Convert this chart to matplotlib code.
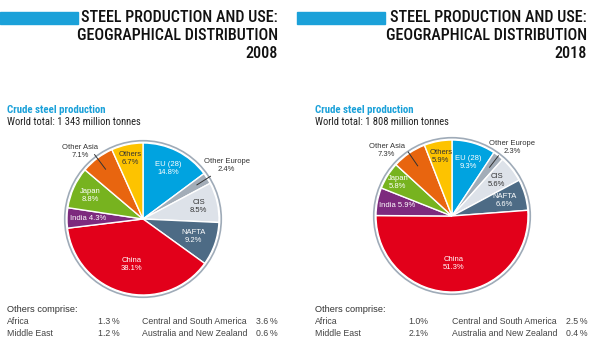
import numpy as np
import matplotlib
matplotlib.use('Agg')
import matplotlib.pyplot as plt
from matplotlib.patches import Circle

# data
regions = ['EU (28)', 'Other Europe', 'CIS', 'NAFTA', 'China', 'India', 'Japan', 'Other Asia', 'Others']
share_2008 = [14.8, 2.4, 8.5, 9.2, 38.1, 4.3, 8.8, 7.1, 6.7]
share_2018 = [9.3, 2.3, 5.6, 6.6, 51.3, 5.9, 5.8, 7.3, 5.9]
totals = ['1 343', '1 808']
years = ['2008', '2018']
others_names = ['Africa', 'Middle East', 'Central and South America', 'Australia and New Zealand']
others_2008 = ['1.3\u2009%', '1.2\u2009%', '3.6\u2009%', '0.6\u2009%']
others_2018 = ['1.0%', '2.1%', '2.5\u2009%', '0.4\u2009%']

colors = ['#00a3e0', '#a3adb8', '#dde2e9', '#4d6b85', '#e2001a', '#7d2a7e', '#77b31f', '#e8650f', '#fdc300']
txtcol = ['white', '#333333', '#333333', 'white', 'white', 'white', 'white', '#333333', '#333333']
BLUE = '#1ba1d9'
COND = ['Roboto Condensed', 'DejaVu Sans']
BODY = ['Liberation Sans', 'DejaVu Sans']

W, H = 600, 347
fig = plt.figure(figsize=(W / 100, H / 100), dpi=100)
fig.patch.set_facecolor('white')

def px(x, y):
    return x / W, 1 - y / H

# label radius factor per wedge; None -> outside label with leader
lab_r = {
    '2008': [0.74, None, 0.75, 0.70, 0.62, 0.72, 0.76, None, 0.82],
    '2018': [0.74, None, 0.75, 0.72, 0.62, 0.73, 0.84, None, 0.80],
}
# outside label: text x, text y, leader start r, leader end r
outside = {
    '2008': {1: (1.10, 0.70, 0.84, 1.05), 7: (-0.83, 0.89, 0.82, 1.06)},
    '2018': {1: (0.79, 0.90, 0.81, 1.00), 7: (-0.86, 0.86, 0.80, 1.02)},
}

R = 76.0
lim = 1.3
LFS = 5.5

def draw_panel(x0, cx, cy, bar, title_right, year, vals, total, oth, col2_x, v1_right, v2_right):
    # top blue bar
    fig.patches.append(plt.Rectangle(px(bar[0], 24), (bar[1] - bar[0]) / W, 12 / H,
                                     transform=fig.transFigure, color=BLUE, zorder=1))
    for i, line in enumerate(['STEEL PRODUCTION AND USE:', 'GEOGRAPHICAL DISTRIBUTION', year]):
        fig.text(*px(title_right, 18 + i * 17.5), line, ha='right', va='center',
                 fontsize=11.6, family=COND, weight=500, color='#111111')
    fig.text(*px(x0, 110), 'Crude steel production', ha='left', va='center',
             fontsize=7.8, family=COND, weight='bold', color=BLUE)
    fig.text(*px(x0, 122), f'World total: {total} million tonnes', ha='left', va='center',
             fontsize=7.6, family=COND, color='#222222')

    side = 2 * lim * R
    ax = fig.add_axes([(cx - side / 2) / W, (H - cy - side / 2) / H, side / W, side / H])
    wedges, _ = ax.pie(vals, colors=colors, startangle=90, counterclock=False, radius=1.0,
                       wedgeprops=dict(edgecolor='white', linewidth=1.0))
    ax.add_patch(Circle((0, 0), 1.03, fill=False, edgecolor='#9fabb8', linewidth=1.2, clip_on=False))
    ax.set_xlim(-lim, lim)
    ax.set_ylim(-lim, lim)
    ax.set_aspect('equal')
    ax.axis('off')

    for i, w in enumerate(wedges):
        ang = np.deg2rad((w.theta1 + w.theta2) / 2)
        val = vals[i]
        name = regions[i]
        r = lab_r[year][i]
        if r is not None:
            x, y = r * np.cos(ang), r * np.sin(ang)
            if name == 'India':
                s = f'{name} {val}%'
            else:
                s = f'{name}\n{val}%'
            ax.text(x, y, s, ha='center', va='center', fontsize=LFS, color=txtcol[i],
                    family=BODY, linespacing=1.2)
        else:
            tx, ty, r0, r1 = outside[year][i]
            ax.text(tx, ty, f'{name}\n{val}%', ha='center', va='center', fontsize=LFS,
                    color='#333333', family=BODY, linespacing=1.2)
            ax.plot([r0 * np.cos(ang), r1 * np.cos(ang)], [r0 * np.sin(ang), r1 * np.sin(ang)],
                    color='#333333', lw=0.7, clip_on=False)

    fig.text(*px(x0, 310), 'Others comprise:', ha='left', va='center', fontsize=6.7,
             family=BODY, color='#333333')
    for j in range(2):
        y = 322 + j * 12
        kw = dict(va='center', fontsize=6.3, family=BODY, color='#444444')
        fig.text(*px(x0, y), others_names[j], ha='left', **kw)
        fig.text(*px(v1_right, y), oth[j], ha='right', **kw)
        fig.text(*px(col2_x, y), others_names[j + 2], ha='left', **kw)
        fig.text(*px(v2_right, y), oth[j + 2], ha='right', **kw)

draw_panel(7, 143, 219, (0, 78), 278, years[0], share_2008, totals[0], others_2008, 142, 120, 278)
draw_panel(315, 452, 216, (297, 385), 587, years[1], share_2018, totals[1], others_2018, 452, 428, 587)

fig.savefig('out.png', dpi=100, facecolor='white')
